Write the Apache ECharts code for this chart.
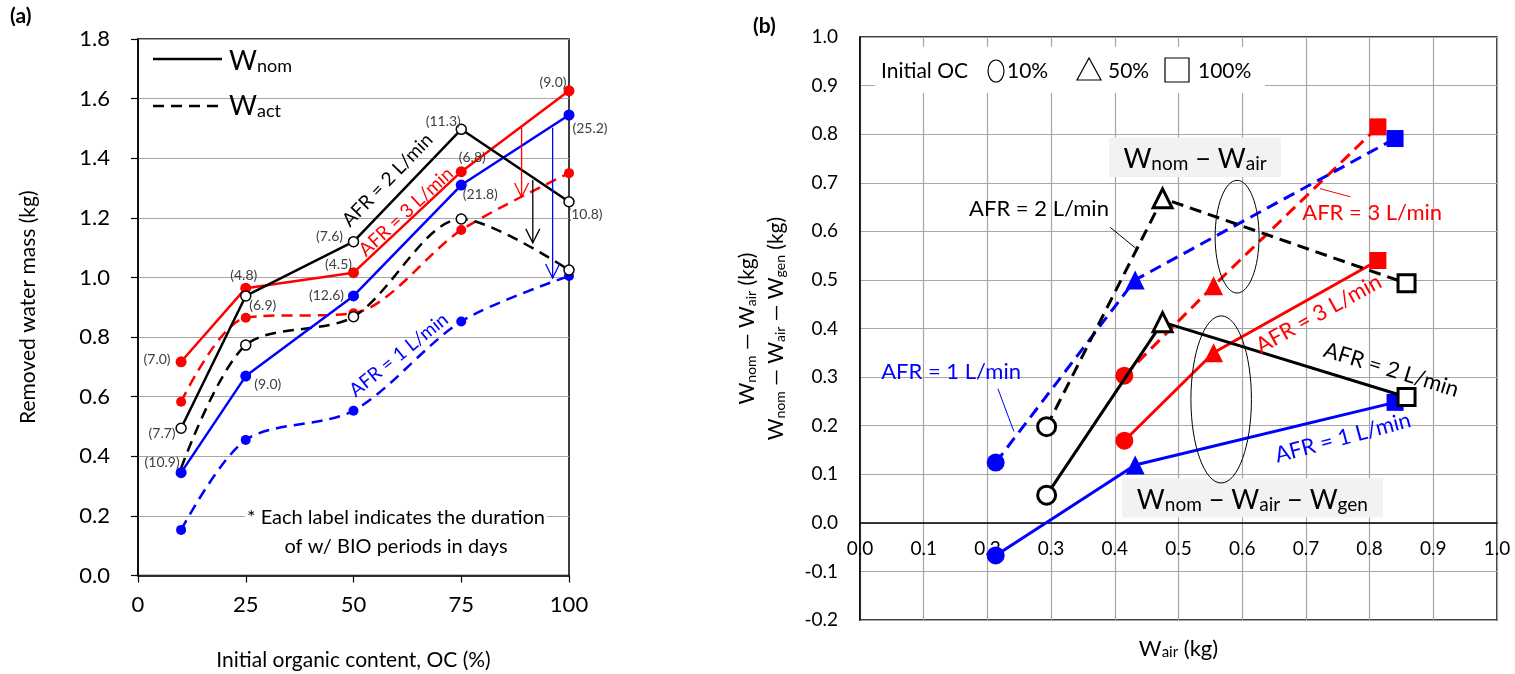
<!DOCTYPE html>
<html><head><meta charset="utf-8">
<script src="https://cdn.jsdelivr.net/npm/echarts@6/dist/echarts.min.js"></script>
<style>html,body{margin:0;padding:0;background:#fff}#c{width:1515px;height:674px}</style>
</head><body><div id="c"></div>
<script>
// ---------- Panel (a) data ----------
const ocX = [10, 25, 50, 75, 100];
const nomAFR1 = [0.345, 0.669, 0.938, 1.310, 1.545];
const nomAFR2 = [0.494, 0.938, 1.120, 1.497, 1.254];
const nomAFR3 = [0.717, 0.964, 1.016, 1.355, 1.626];
const actAFR1 = [0.153, 0.455, 0.553, 0.852, 1.005];
const actAFR2 = [0.360, 0.773, 0.868, 1.196, 1.025];
const actAFR3 = [0.583, 0.865, 0.880, 1.159, 1.350];
const daysAFR1 = ['(10.9)', '(9.0)', '(12.6)', '(21.8)', '(25.2)'];
const daysAFR2 = ['(7.7)', '(6.9)', '(7.6)', '(11.3)', '(10.8)'];
const daysAFR3 = ['(7.0)', '(4.8)', '(4.5)', '(6.8)', '(9.0)'];
// arrows W_nom -> W_act : [OC, from, to]
const arrowsA = [[89.0, 1.502, 1.270], [91.6, 1.327, 1.116], [96.2, 1.502, 0.998]];

// ---------- Panel (b) data ----------
const wairAFR1 = [0.213, 0.432, 0.840];
const wairAFR2 = [0.293, 0.475, 0.858];
const wairAFR3 = [0.415, 0.555, 0.813];
const diffAFR1 = [0.124, 0.500, 0.791];   // W_nom - W_air
const diffAFR2 = [0.198, 0.668, 0.493];
const diffAFR3 = [0.303, 0.488, 0.815];
const netAFR1 = [-0.067, 0.119, 0.248];   // W_nom - W_air - W_gen
const netAFR2 = [0.057, 0.413, 0.259];
const netAFR3 = [0.169, 0.350, 0.540];
const ocLevels = ['10%', '50%', '100%'];
const yMinB = -0.2, yMaxB = 1.0;

// ---------- styles ----------
const FONT = 'Lato';
const RED = '#ff0000', BLUE = '#0000ff', BLACK = '#000000';
const labelOffsets1 = [[-19, -10], [22, 8], [-27, 0], [19, 9], [21, 13]];
const labelOffsets2 = [[-19, 5], [17, 10], [-24, -5], [-18, -8], [16, 13]];
const labelOffsets3 = [[-24, -2], [-2, -13], [-15, -8], [11, -14], [-16, -8]];
const shapesB = ['circle', 'triangle', 'rect'];
const sizesB = [18, 19, 17];
const gridB = { left: 860, top: 37, width: 637, height: 583 };
// move panel (b) x axis up to the zero line
const zeroOffsetB = -gridB.height * (0 - yMinB) / (yMaxB - yMinB);

const chart = echarts.init(document.getElementById('c'));

function nomSeries(ys, days, color, open, offs, z) {
  return {
    type: 'line', xAxisIndex: 0, yAxisIndex: 0, z,
    data: ocX.map((x, i) => ({ value: [x, ys[i]], label: { offset: offs[i] } })),
    symbol: 'circle', symbolSize: open ? 10 : 11,
    lineStyle: { color, width: 2.5 },
    itemStyle: open ? { color: '#fff', borderColor: color, borderWidth: 1.5 } : { color, borderWidth: 0 },
    label: { show: true, position: 'inside', formatter: p => days[p.dataIndex],
      fontSize: 14, color: '#404040', fontFamily: FONT },
    emphasis: { disabled: true }
  };
}
function actSeries(ys, color, open, z, hideFirst) {
  return {
    type: 'line', xAxisIndex: 0, yAxisIndex: 0, z, smooth: 0.3,
    data: ocX.map((x, i) => [x, ys[i]]),
    symbol: (v, p) => (hideFirst && p.dataIndex === 0) ? 'none' : 'circle',
    symbolSize: 10,
    lineStyle: { color, width: 2.5, type: [11, 7] },
    itemStyle: open ? { color: '#fff', borderColor: color, borderWidth: 1.5 } : { color, borderWidth: 0 },
    emphasis: { disabled: true }
  };
}
function bSeries(xs, ys, color, open, dashed, z) {
  return {
    type: 'line', xAxisIndex: 1, yAxisIndex: 1, z,
    data: xs.map((x, i) => [x, ys[i]]),
    symbol: (v, p) => shapesB[p.dataIndex],
    symbolSize: (v, p) => sizesB[p.dataIndex],
    lineStyle: { color, width: 3, type: dashed ? [12, 7] : 'solid' },
    itemStyle: open ? { color: '#fff', borderColor: color, borderWidth: 3 } : { color, borderWidth: 0 },
    emphasis: { disabled: true }
  };
}

const subRich = (big, small, lh) => ({
  b: { fontSize: big, fontFamily: FONT, color: '#000', lineHeight: lh || (big + 4), verticalAlign: 'bottom' },
  s: { fontSize: small, fontFamily: FONT, color: '#000', lineHeight: big, verticalAlign: 'bottom' }
});

const option = {
  animation: false,
  backgroundColor: '#fff',
  textStyle: { fontFamily: FONT },
  grid: [
    { left: 138, top: 39, width: 431, height: 536.5, show: true, borderColor: '#000', borderWidth: 1.5,
      containLabel: false, outerBoundsMode: 'none' },
    { left: gridB.left, top: gridB.top, width: gridB.width, height: gridB.height, show: true, borderColor: '#000', borderWidth: 1.5,
      containLabel: false, outerBoundsMode: 'none' }
  ],
  xAxis: [
    { gridIndex: 0, type: 'value', min: 0, max: 100, interval: 25,
      axisLine: { onZero: false, lineStyle: { color: '#000', width: 1.5 } },
      axisTick: { show: true, length: 7, lineStyle: { color: '#000', width: 1.2 } },
      axisLabel: { fontSize: 22, color: '#000', margin: 18, fontFamily: FONT },
      splitLine: { show: false },
      name: 'Initial organic content, OC (%)', nameLocation: 'middle', nameGap: 74,
      nameTextStyle: { fontSize: 21, color: '#000', fontFamily: FONT } },
    { gridIndex: 1, type: 'value', min: 0, max: 1, interval: 0.1, position: 'bottom', offset: zeroOffsetB,
      axisLine: { onZero: false, lineStyle: { color: '#000', width: 1.5 } },
      axisTick: { show: false },
      axisLabel: { fontSize: 19, color: '#000', margin: 17, fontFamily: FONT, formatter: v => v.toFixed(1) },
      splitLine: { show: true, lineStyle: { color: '#a6a6a6', width: 1.2 } },
      name: '{b|W}{s|air}{b| (kg)}', nameLocation: 'middle', nameGap: 111,
      nameTextStyle: { rich: subRich(22, 15) } }
  ],
  yAxis: [
    { gridIndex: 0, type: 'value', min: 0, max: 1.8, interval: 0.2,
      axisLine: { show: true, onZero: false, lineStyle: { color: '#000', width: 1.5 } },
      axisTick: { show: true, length: 7, lineStyle: { color: '#000', width: 1.2 } },
      axisLabel: { fontSize: 22, color: '#000', margin: 28, fontFamily: FONT, formatter: v => v.toFixed(1) },
      splitLine: { show: true, lineStyle: { color: '#a6a6a6', width: 1.2 } },
      name: 'Removed water mass (kg)', nameLocation: 'middle', nameGap: 99,
      nameTextStyle: { fontSize: 21, color: '#000', fontFamily: FONT } },
    { gridIndex: 1, type: 'value', min: yMinB, max: yMaxB, interval: 0.1,
      axisLine: { show: true, onZero: false, lineStyle: { color: '#000', width: 1.5 } },
      axisTick: { show: false },
      axisLabel: { fontSize: 19, color: '#000', margin: 22, fontFamily: FONT, formatter: v => v.toFixed(1) },
      splitLine: { show: true, lineStyle: { color: '#a6a6a6', width: 1.2 } },
      name: '{b|W}{s|nom}{b| — W}{s|air}{b| (kg)}\n{b|W}{s|nom}{b| — W}{s|air}{b| — W}{s|gen}{b| (kg)}',
      nameLocation: 'middle', nameGap: 73,
      nameTextStyle: { lineHeight: 29, rich: subRich(21, 14, 29) } }
  ],
  series: [
    // panel (a): W_act dashed
    actSeries(actAFR1, BLUE, false, 2),
    actSeries(actAFR3, RED, false, 3),
    actSeries(actAFR2, BLACK, true, 4, true),
    // panel (a): W_nom solid
    nomSeries(nomAFR1, daysAFR1, BLUE, false, labelOffsets1, 5),
    nomSeries(nomAFR3, daysAFR3, RED, false, labelOffsets3, 6),
    nomSeries(nomAFR2, daysAFR2, BLACK, true, labelOffsets2, 7),
    // arrows
    { type: 'custom', xAxisIndex: 0, yAxisIndex: 0, z: 8,
      data: arrowsA,
      encode: { x: 0, y: [1, 2] },
      renderItem: (params, api) => {
        const cols = [RED, BLACK, BLUE];
        const c = cols[params.dataIndex];
        const p1 = api.coord([api.value(0), api.value(1)]);
        const p2 = api.coord([api.value(0), api.value(2)]);
        return { type: 'group', children: [
          { type: 'line', shape: { x1: p1[0], y1: p1[1], x2: p2[0], y2: p2[1] }, style: { stroke: c, lineWidth: 1.3 } },
          { type: 'polyline', shape: { points: [[p2[0] - 7, p2[1] - 14], [p2[0], p2[1]], [p2[0] + 7, p2[1] - 14]] },
            style: { stroke: c, lineWidth: 1.3, fill: null } }
        ] };
      } },
    // panel (b)
    bSeries(wairAFR3, diffAFR3, RED, false, true, 3),
    bSeries(wairAFR1, diffAFR1, BLUE, false, true, 4),
    bSeries(wairAFR2, diffAFR2, BLACK, true, true, 5),
    bSeries(wairAFR3, netAFR3, RED, false, false, 3),
    bSeries(wairAFR1, netAFR1, BLUE, false, false, 4),
    bSeries(wairAFR2, netAFR2, BLACK, true, false, 5)
  ]
};
chart.setOption(option);

// ---------- annotations ----------
const pA = (x, y) => chart.convertToPixel({ gridIndex: 0 }, [x, y]);
const pB = (x, y) => chart.convertToPixel({ gridIndex: 1 }, [x, y]);
const deg = d => d * Math.PI / 180;

function rotText(pt, text, color, angle, size) {
  return { type: 'text', x: pt[0], y: pt[1], rotation: deg(angle), z: 50,
    style: { text, fill: color, font: size + 'px ' + FONT, align: 'center', verticalAlign: 'middle' } };
}
function leader(a, b, color) {
  return { type: 'line', z: 50, shape: { x1: a[0], y1: a[1], x2: b[0], y2: b[1] }, style: { stroke: color, lineWidth: 1 } };
}

const g = [];
// panel labels
g.push({ type: 'text', x: 10, y: 6, z: 50, style: { text: '(a)', font: 'bold 21px ' + FONT, fill: '#000' } });
g.push({ type: 'text', x: 753, y: 16, z: 50, style: { text: '(b)', font: 'bold 21px ' + FONT, fill: '#000' } });

// panel (a) legend
g.push({ type: 'line', z: 50, shape: { x1: 153, y1: 59, x2: 222, y2: 59 }, style: { stroke: '#000', lineWidth: 2.5 } });
g.push({ type: 'line', z: 50, shape: { x1: 153, y1: 106, x2: 222, y2: 106 }, style: { stroke: '#000', lineWidth: 2.5, lineDash: [11, 7] } });
g.push({ type: 'text', x: 229, y: 44, z: 50, style: { text: '{b|W}{s|nom}', rich: subRich(27, 18) } });
g.push({ type: 'text', x: 229, y: 89, z: 50, style: { text: '{b|W}{s|act}', rich: subRich(27, 18) } });

// panel (a) footnote
g.push({ type: 'text', x: 396, y: 532, z: 50,
  style: { text: '* Each label indicates the duration\nof w/ BIO periods in days', font: '20px ' + FONT,
    fill: '#000', align: 'center', verticalAlign: 'middle', lineHeight: 29, backgroundColor: '#fff', padding: [0, 2] } });

// panel (a) rotated AFR labels
g.push(rotText(pA(57.9, 1.327), 'AFR = 2 L/min', BLACK, 46, 19));
g.push(rotText(pA(62.2, 1.220), 'AFR = 3 L/min', RED, 43, 19));
g.push(rotText(pA(60.5, 0.740), 'AFR = 1 L/min', BLUE, 39, 19));

// panel (b) legend box
g.push({ type: 'rect', z: 40, shape: { x: 875, y: 47, width: 390, height: 46 }, style: { fill: '#fff' } });
g.push({ type: 'text', x: 881, y: 71, z: 50, style: { text: 'Initial OC', font: '21px ' + FONT, fill: '#000', verticalAlign: 'middle' } });
g.push({ type: 'ellipse', z: 50, shape: { cx: 996, cy: 71, rx: 8, ry: 11 }, style: { fill: null, stroke: '#000', lineWidth: 1.2 } });
g.push({ type: 'text', x: 1007, y: 71, z: 50, style: { text: ocLevels[0], font: '21px ' + FONT, fill: '#000', verticalAlign: 'middle' } });
g.push({ type: 'polygon', z: 50, shape: { points: [[1077, 80], [1101, 80], [1089, 58]] }, style: { fill: null, stroke: '#000', lineWidth: 1.2 } });
g.push({ type: 'text', x: 1108, y: 71, z: 50, style: { text: ocLevels[1], font: '21px ' + FONT, fill: '#000', verticalAlign: 'middle' } });
g.push({ type: 'rect', z: 50, shape: { x: 1165, y: 58, width: 24, height: 24 }, style: { fill: null, stroke: '#000', lineWidth: 1.2 } });
g.push({ type: 'text', x: 1198, y: 71, z: 50, style: { text: ocLevels[2], font: '21px ' + FONT, fill: '#000', verticalAlign: 'middle' } });

// panel (b) gray boxes
const box1a = pB(0.391, 0.793), box1b = pB(0.661, 0.712);
g.push({ type: 'rect', z: 40, shape: { x: box1a[0], y: box1a[1], width: box1b[0] - box1a[0], height: box1b[1] - box1a[1] }, style: { fill: '#f2f2f2' } });
const t1 = pB(0.526, 0.752);
g.push({ type: 'text', x: t1[0], y: t1[1], z: 50, style: { text: '{b|W}{s|nom}{b| − W}{s|air}', rich: subRich(27, 19), align: 'center', verticalAlign: 'middle' } });
const box2a = pB(0.4116, 0.0916), box2b = pB(0.821, 0.011);
g.push({ type: 'rect', z: 40, shape: { x: box2a[0], y: box2a[1], width: box2b[0] - box2a[0], height: box2b[1] - box2a[1] }, style: { fill: '#f2f2f2' } });
const t2 = pB(0.616, 0.050);
g.push({ type: 'text', x: t2[0], y: t2[1], z: 50, style: { text: '{b|W}{s|nom}{b| − W}{s|air}{b| − W}{s|gen}', rich: subRich(27, 19), align: 'center', verticalAlign: 'middle' } });

// ellipses
function ell(cx, cy, rx, ry) {
  const c = pB(cx, cy), e = pB(cx + rx, cy + ry);
  return { type: 'ellipse', z: 45, shape: { cx: c[0], cy: c[1], rx: Math.abs(e[0] - c[0]), ry: Math.abs(e[1] - c[1]) }, style: { fill: null, stroke: '#000', lineWidth: 1 } };
}
g.push(ell(0.592, 0.589, 0.0345, 0.116));
g.push(ell(0.567, 0.254, 0.0475, 0.172));

// horizontal AFR labels + leaders
g.push(rotText(pB(0.281, 0.647), 'AFR = 2 L/min', BLACK, 0, 22));
g.push(leader(pB(0.393, 0.608), pB(0.433, 0.565), BLACK));
g.push(rotText(pB(0.804, 0.638), 'AFR = 3 L/min', RED, 0, 22));
g.push(leader(pB(0.722, 0.688), pB(0.770, 0.671), RED));
g.push(rotText(pB(0.143, 0.310), 'AFR = 1 L/min', BLUE, 0, 22));
g.push(leader(pB(0.2165, 0.276), pB(0.2416, 0.188), BLUE));
// rotated AFR labels along solid lines
g.push(rotText(pB(0.720, 0.430), 'AFR = 3 L/min', RED, 29, 22));
g.push(rotText(pB(0.834, 0.315), 'AFR = 2 L/min', BLACK, -17, 22));
g.push(rotText(pB(0.758, 0.175), 'AFR = 1 L/min', BLUE, 15, 22));

chart.setOption({ graphic: g });
</script>
</body></html>
